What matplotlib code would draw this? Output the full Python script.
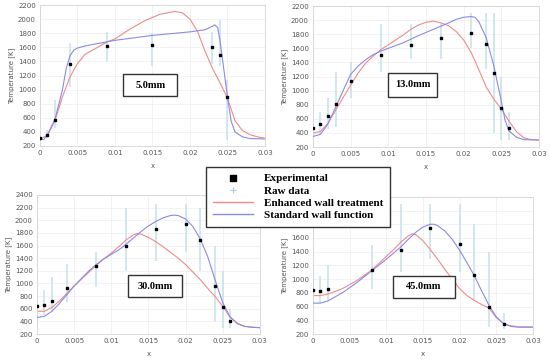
import matplotlib
matplotlib.use("Agg")
import matplotlib.pyplot as plt
from matplotlib.lines import Line2D
from matplotlib.patches import Rectangle

# ---- 5.0mm ----
exp_x_5 = [0, 0.001, 0.002, 0.004, 0.009, 0.015, 0.023, 0.024, 0.025]
exp_t_5 = [320, 360, 570, 1360, 1620, 1640, 1610, 1490, 900]
raw_lo_5 = [290, 320, 450, 1040, 1400, 1330, 1370, 1330, 280]
raw_hi_5 = [360, 420, 850, 1660, 1820, 1800, 1820, 1990, 1140]
std_x_5 = [0, 0.0005, 0.001, 0.002, 0.003, 0.0035, 0.004, 0.0045, 0.005, 0.006, 0.008, 0.01,
           0.015, 0.02, 0.022, 0.023, 0.0233, 0.0237, 0.024, 0.0245, 0.025, 0.0255, 0.026,
           0.027, 0.028, 0.03]
std_t_5 = [300, 290, 360, 580, 1000, 1300, 1480, 1560, 1590, 1620, 1660, 1700,
           1770, 1820, 1850, 1900, 1920, 1880, 1700, 1300, 900, 550, 400,
           330, 305, 300]
enh_x_5 = [0, 0.001, 0.002, 0.003, 0.004, 0.005, 0.006, 0.0075, 0.009, 0.01, 0.012, 0.014,
           0.016, 0.018, 0.019, 0.02, 0.021, 0.022, 0.023, 0.024, 0.025, 0.026, 0.027,
           0.028, 0.029, 0.03]
enh_t_5 = [300, 350, 560, 900, 1180, 1370, 1500, 1590, 1680, 1720, 1860, 1980,
           2070, 2110, 2090, 2000, 1830, 1550, 1300, 1100, 880, 560, 420,
           360, 330, 310]

# ---- 13.0mm ----
exp_x_13 = [0, 0.001, 0.002, 0.003, 0.005, 0.009, 0.013, 0.017, 0.021, 0.023, 0.024, 0.025, 0.026]
exp_t_13 = [470, 520, 645, 810, 1130, 1500, 1650, 1750, 1820, 1660, 1250, 750, 470]
raw_lo_13 = [340, 370, 450, 480, 900, 1260, 1450, 1450, 1600, 1300, 400, 300, 300]
raw_hi_13 = [600, 700, 900, 1260, 1400, 1950, 1950, 1950, 2100, 2100, 2100, 1200, 700]
std_x_13 = [0, 0.001, 0.002, 0.003, 0.004, 0.005, 0.006, 0.007, 0.008, 0.009, 0.01, 0.012,
            0.014, 0.016, 0.018, 0.019, 0.02, 0.021, 0.0215, 0.022, 0.023, 0.024, 0.025,
            0.0255, 0.026, 0.027, 0.028, 0.03]
std_t_13 = [350, 380, 530, 760, 1000, 1230, 1350, 1440, 1510, 1560, 1600, 1680,
            1780, 1870, 1960, 2010, 2040, 2050, 2040, 1980, 1750, 1350, 850,
            580, 430, 340, 305, 300]
enh_x_13 = [0, 0.001, 0.002, 0.003, 0.004, 0.005, 0.006, 0.007, 0.008, 0.009, 0.01, 0.012,
            0.013, 0.014, 0.015, 0.016, 0.017, 0.018, 0.019, 0.02, 0.021, 0.022, 0.023,
            0.024, 0.025, 0.026, 0.027, 0.028, 0.029, 0.03]
enh_t_13 = [400, 420, 540, 720, 900, 1080, 1250, 1390, 1490, 1580, 1650, 1790,
            1870, 1930, 1970, 1985, 1960, 1920, 1840, 1720, 1540, 1300, 1050,
            880, 740, 570, 420, 330, 305, 300]

# ---- 30.0mm ----
exp_x_30 = [0, 0.001, 0.002, 0.004, 0.008, 0.012, 0.016, 0.02, 0.022, 0.024, 0.025, 0.026]
exp_t_30 = [640, 660, 730, 930, 1277, 1600, 1855, 1935, 1685, 964, 620, 412]
raw_lo_30 = [450, 500, 550, 700, 950, 1200, 1350, 1500, 1200, 400, 300, 300]
raw_hi_30 = [800, 900, 1100, 1300, 1500, 2200, 2250, 2250, 2200, 1600, 1200, 600]
std_x_30 = [0, 0.001, 0.002, 0.003, 0.004, 0.005, 0.006, 0.007, 0.008, 0.009, 0.01, 0.011,
            0.012, 0.013, 0.014, 0.015, 0.016, 0.017, 0.018, 0.0185, 0.019, 0.02, 0.021,
            0.022, 0.023, 0.024, 0.025, 0.026, 0.027, 0.028, 0.029, 0.03]
std_t_30 = [460, 480, 560, 680, 820, 960, 1080, 1200, 1300, 1390, 1460, 1530,
            1620, 1720, 1820, 1910, 1980, 2040, 2075, 2080, 2075, 2020, 1900,
            1700, 1420, 1050, 700, 470, 360, 320, 305, 300]
enh_x_30 = [0, 0.001, 0.002, 0.003, 0.004, 0.005, 0.006, 0.007, 0.008, 0.009, 0.01, 0.011,
            0.012, 0.013, 0.0135, 0.014, 0.015, 0.016, 0.017, 0.018, 0.019, 0.02, 0.021,
            0.022, 0.023, 0.024, 0.025, 0.026, 0.027, 0.028, 0.03]
enh_t_30 = [560, 560, 620, 720, 840, 960, 1070, 1180, 1290, 1390, 1480, 1580,
            1690, 1770, 1790, 1780, 1730, 1660, 1580, 1490, 1400, 1300, 1180,
            1060, 920, 790, 640, 470, 370, 320, 300]

# ---- 45.0mm ----
exp_x_45 = [0, 0.001, 0.002, 0.008, 0.012, 0.016, 0.02, 0.022, 0.024, 0.026]
exp_t_45 = [840, 830, 860, 1140, 1425, 1745, 1517, 1062, 587, 345]
raw_lo_45 = [650, 650, 700, 850, 1100, 1300, 1100, 700, 300, 280]
raw_hi_45 = [1000, 1050, 1200, 1500, 2100, 2100, 2100, 1800, 1400, 500]
std_x_45 = [0, 0.001, 0.002, 0.004, 0.006, 0.008, 0.01, 0.011, 0.012, 0.013, 0.014, 0.015,
            0.016, 0.0165, 0.017, 0.018, 0.019, 0.02, 0.021, 0.022, 0.023, 0.024, 0.025,
            0.026, 0.027, 0.028, 0.03]
std_t_45 = [650, 650, 680, 800, 950, 1120, 1290, 1380, 1470, 1580, 1680, 1760,
            1800, 1800, 1780, 1700, 1580, 1420, 1240, 1050, 830, 620, 450,
            350, 310, 300, 300]
enh_x_45 = [0, 0.001, 0.002, 0.004, 0.006, 0.008, 0.01, 0.011, 0.012, 0.013, 0.0135, 0.014,
            0.015, 0.016, 0.017, 0.018, 0.019, 0.02, 0.021, 0.022, 0.023, 0.024, 0.025,
            0.026, 0.027, 0.028, 0.03]
enh_t_45 = [760, 760, 780, 860, 980, 1130, 1330, 1430, 1540, 1630, 1660, 1650,
            1560, 1430, 1290, 1140, 1000, 860, 760, 690, 630, 580, 440,
            350, 320, 305, 300]

panels = [
    ("5.0mm", exp_x_5, exp_t_5, raw_lo_5, raw_hi_5, std_x_5, std_t_5, enh_x_5, enh_t_5),
    ("13.0mm", exp_x_13, exp_t_13, raw_lo_13, raw_hi_13, std_x_13, std_t_13, enh_x_13, enh_t_13),
    ("30.0mm", exp_x_30, exp_t_30, raw_lo_30, raw_hi_30, std_x_30, std_t_30, enh_x_30, enh_t_30),
    ("45.0mm", exp_x_45, exp_t_45, raw_lo_45, raw_hi_45, std_x_45, std_t_45, enh_x_45, enh_t_45),
]

# axes rects (figure fraction), y max, label box centre (axes fraction)
rects = [[0.0727, 0.599, 0.409, 0.387],
         [0.569, 0.596, 0.411, 0.3875],
         [0.0673, 0.0824, 0.405, 0.382],
         [0.569, 0.0824, 0.40, 0.377]]
ymax = [2200, 2200, 2400, 2200]
ylab_max = [2200, 2200, 2400, 1600]   # the legend hides the top ticks of the last panel
boxpos = [(0.49, 0.43), (0.44, 0.44), (0.53, 0.345), (0.505, 0.343)]
boxsize = [(0.24, 0.156), (0.22, 0.17), (0.245, 0.158), (0.28, 0.16)]

RED = "#f08a8a"
BLUE = "#8a8ae8"
RAW = "#c4e2ee"

fig = plt.figure(figsize=(5.5, 3.64), dpi=100)

for (name, ex, et, rlo, rhi, sx, st, enx, ent), r, ym, yl, bp, bs in zip(
        panels, rects, ymax, ylab_max, boxpos, boxsize):
    ax = fig.add_axes(r)
    ax.vlines(ex, rlo, rhi, color=RAW, lw=1.1, zorder=1)
    ax.plot(enx, ent, color=RED, lw=0.8, zorder=2)
    ax.plot(sx, st, color=BLUE, lw=0.8, zorder=3)
    ax.plot(ex, et, "s", color="black", ms=1.6, zorder=4)
    ax.set_xlim(0, 0.03)
    ax.set_ylim(200, ym)
    ax.set_xticks([0, 0.005, 0.01, 0.015, 0.02, 0.025, 0.03])
    ax.set_xticklabels(["0", "0.005", "0.01", "0.015", "0.02", "0.025", "0.03"])
    ticks = list(range(200, ym + 1, 200))
    ax.set_yticks(ticks)
    ax.set_yticklabels([str(t) if t <= yl else "" for t in ticks])
    ax.grid(True, color="#ededed", lw=0.5)
    ax.set_axisbelow(True)
    for s in ax.spines.values():
        s.set_color("#d4d4d4")
        s.set_linewidth(0.6)
    ax.tick_params(labelsize=5, colors="#555555", length=0, pad=3)
    ax.set_xlabel("x", fontsize=5, color="#555555", labelpad=5)
    ax.set_ylabel("Temperature [K]", fontsize=5, color="#555555", labelpad=2)
    ax.add_patch(Rectangle((bp[0] - bs[0] / 2, bp[1] - bs[1] / 2), bs[0], bs[1],
                           transform=ax.transAxes, fill=True, facecolor="white",
                           edgecolor="#333333", lw=1.0, zorder=5))
    ax.text(bp[0], bp[1], name, transform=ax.transAxes, ha="center", va="center",
            fontsize=7.5, fontweight="bold", family="Liberation Serif", zorder=6)

handles = [Line2D([], [], ls="none", marker="s", color="black", ms=4),
           Line2D([], [], ls="none", marker="+", color="#9fcfe3", ms=5, mew=0.8),
           Line2D([], [], color=RED, lw=1.0),
           Line2D([], [], color=BLUE, lw=1.0)]
labels = ["Experimental", "Raw data", "Enhanced wall treatment", "Standard wall function"]
leg = fig.legend(handles, labels, loc="upper left", bbox_to_anchor=(206 / 550, 1 - 167 / 364),
                 prop={"family": "Liberation Serif", "weight": "bold", "size": 8},
                 frameon=True, fancybox=False, edgecolor="#333333", framealpha=1,
                 handlelength=3.6, handletextpad=1.0, labelspacing=0.22, borderpad=0.6,
                 borderaxespad=0)
leg.get_frame().set_linewidth(1.0)
leg.set_zorder(10)

fig.savefig("out.png", dpi=100)
